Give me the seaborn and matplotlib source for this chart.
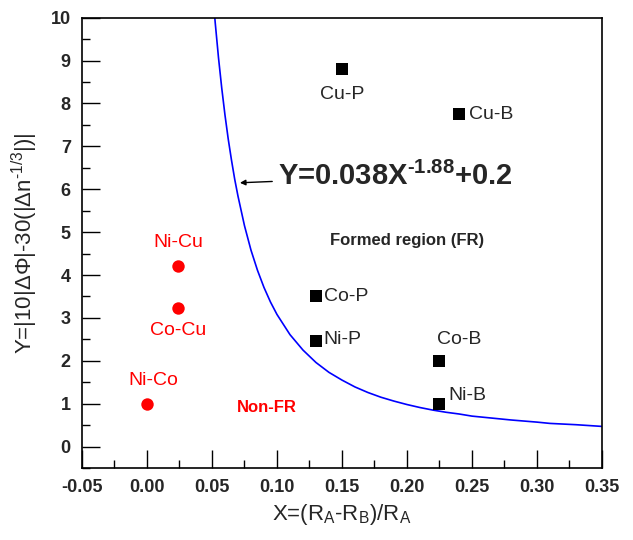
import matplotlib
matplotlib.use("Agg")
import matplotlib.pyplot as plt
import seaborn as sns
import pandas as pd
from matplotlib.ticker import MultipleLocator

# Formed-region systems (black squares)
fr_names = ["Cu-P", "Cu-B", "Co-P", "Ni-P", "Co-B", "Ni-B"]
fr_x = [0.15, 0.24, 0.13, 0.13, 0.225, 0.225]
fr_y = [8.8, 7.75, 3.5, 2.45, 2.0, 1.0]

# Non-formed systems (red circles)
nfr_names = ["Ni-Cu", "Co-Cu", "Ni-Co"]
nfr_x = [0.024, 0.024, 0.0]
nfr_y = [4.22, 3.22, 1.0]

# Fitted boundary curve Y=0.038X^-1.88+0.2
curve_x = [0.0515, 0.0525, 0.055, 0.0575, 0.06, 0.0625, 0.065, 0.0675, 0.07, 0.075,
           0.08, 0.085, 0.09, 0.095, 0.10, 0.11, 0.12, 0.13, 0.14, 0.15,
           0.16, 0.17, 0.18, 0.19, 0.20, 0.21, 0.22, 0.23, 0.24, 0.25,
           0.27, 0.28, 0.30, 0.31, 0.33, 0.35]
curve_y = [10.24, 9.88, 9.07, 8.36, 7.73, 7.17, 6.68, 6.23, 5.84, 5.15,
           4.58, 4.11, 3.71, 3.37, 3.08, 2.61, 2.25, 1.96, 1.73, 1.55,
           1.39, 1.26, 1.15, 1.06, 0.98, 0.91, 0.85, 0.80, 0.76, 0.71,
           0.65, 0.62, 0.57, 0.54, 0.51, 0.47]

xticks = [-0.05, 0.00, 0.05, 0.10, 0.15, 0.20, 0.25, 0.30, 0.35]
yticks = [0, 1, 2, 3, 4, 5, 6, 7, 8, 9, 10]

sns.set_style("white")
plt.rcParams['font.family'] = ['Liberation Sans', 'DejaVu Sans']
plt.rcParams['mathtext.fontset'] = 'custom'
plt.rcParams['mathtext.rm'] = 'Liberation Sans'
plt.rcParams['mathtext.it'] = 'Liberation Sans'
plt.rcParams['mathtext.bf'] = 'Liberation Sans:bold'

fig = plt.figure(figsize=(6.33, 5.40), dpi=100)
ax = fig.add_axes([0.1295, 0.1333, 0.8215, 0.834])

df_fr = pd.DataFrame({"x": fr_x, "y": fr_y, "name": fr_names})
df_nfr = pd.DataFrame({"x": nfr_x, "y": nfr_y, "name": nfr_names})
df_curve = pd.DataFrame({"x": curve_x, "y": curve_y})

sns.lineplot(data=df_curve, x="x", y="y", ax=ax, color="#0000ff", linewidth=1.2,
             sort=False, estimator=None)
sns.scatterplot(data=df_fr, x="x", y="y", ax=ax, marker="s", s=70, color="black",
                edgecolor="black", linewidth=0, zorder=5)
sns.scatterplot(data=df_nfr, x="x", y="y", ax=ax, marker="o", s=80, color="#ff0000",
                edgecolor="#ff0000", linewidth=0, zorder=5)

ax.set_xlim(-0.05, 0.35)
ax.set_ylim(-0.5, 10)
ax.set_xticks(xticks)
ax.set_xticklabels([f"{v:.2f}" for v in xticks])
ax.set_yticks(yticks)
ax.set_yticklabels([str(v) for v in yticks])
ax.xaxis.set_minor_locator(MultipleLocator(0.025))
ax.yaxis.set_minor_locator(MultipleLocator(0.5))
ax.tick_params(which="major", direction="in", length=13, width=1, color="black",
               bottom=True, left=True, top=False, right=False, pad=8)
ax.tick_params(which="minor", direction="in", length=6, width=1, color="black",
               bottom=True, left=True, top=False, right=False)
for lab in ax.get_xticklabels() + ax.get_yticklabels():
    lab.set_fontweight("bold")
    lab.set_fontsize(13)
    lab.set_family(['Liberation Sans Narrow', 'Liberation Sans', 'DejaVu Sans'])
for sp in ax.spines.values():
    sp.set_color("black")
    sp.set_linewidth(1.2)

ax.set_xlabel(r"X=(R$_\mathregular{A}$-R$_\mathregular{B}$)/R$_\mathregular{A}$", fontsize=16, labelpad=4)
ax.set_ylabel("Y=|10|\u0394\u03a6|-30(|\u0394n$^{\\mathregular{\u20101/3}}$|)|", fontsize=16, labelpad=8)

# point labels
lab_fs = 14
ax.text(0.15, 8.2, "Cu-P", ha="center", va="center", fontsize=lab_fs)
ax.text(0.248, 7.75, "Cu-B", ha="left", va="center", fontsize=lab_fs)
ax.text(0.136, 3.5, "Co-P", ha="left", va="center", fontsize=lab_fs)
ax.text(0.136, 2.5, "Ni-P", ha="left", va="center", fontsize=lab_fs)
ax.text(0.24, 2.5, "Co-B", ha="center", va="center", fontsize=lab_fs)
ax.text(0.232, 1.2, "Ni-B", ha="left", va="center", fontsize=lab_fs)
ax.text(0.024, 4.75, "Ni-Cu", ha="center", va="center", fontsize=lab_fs, color="#ff0000")
ax.text(0.024, 2.7, "Co-Cu", ha="center", va="center", fontsize=lab_fs, color="#ff0000")
ax.text(0.005, 1.55, "Ni-Co", ha="center", va="center", fontsize=lab_fs, color="#ff0000")
ax.text(0.092, 0.9, "Non-FR", ha="center", va="center", fontsize=12, color="#ff0000",
        fontweight="bold")
ax.text(0.2, 4.8, "Formed region (FR)", ha="center", va="center", fontsize=12,
        fontweight="bold")
ax.annotate("Y=0.038X$^{\\mathregular{\u20101.88}}$+0.2", xy=(0.0715, 6.15), xytext=(0.101, 6.3),
            fontsize=21, fontweight="bold", ha="left", va="center",
            arrowprops=dict(arrowstyle="-|>", color="black", lw=1, shrinkA=2, shrinkB=0,
                            mutation_scale=8))

fig.savefig("out.png", dpi=100)
